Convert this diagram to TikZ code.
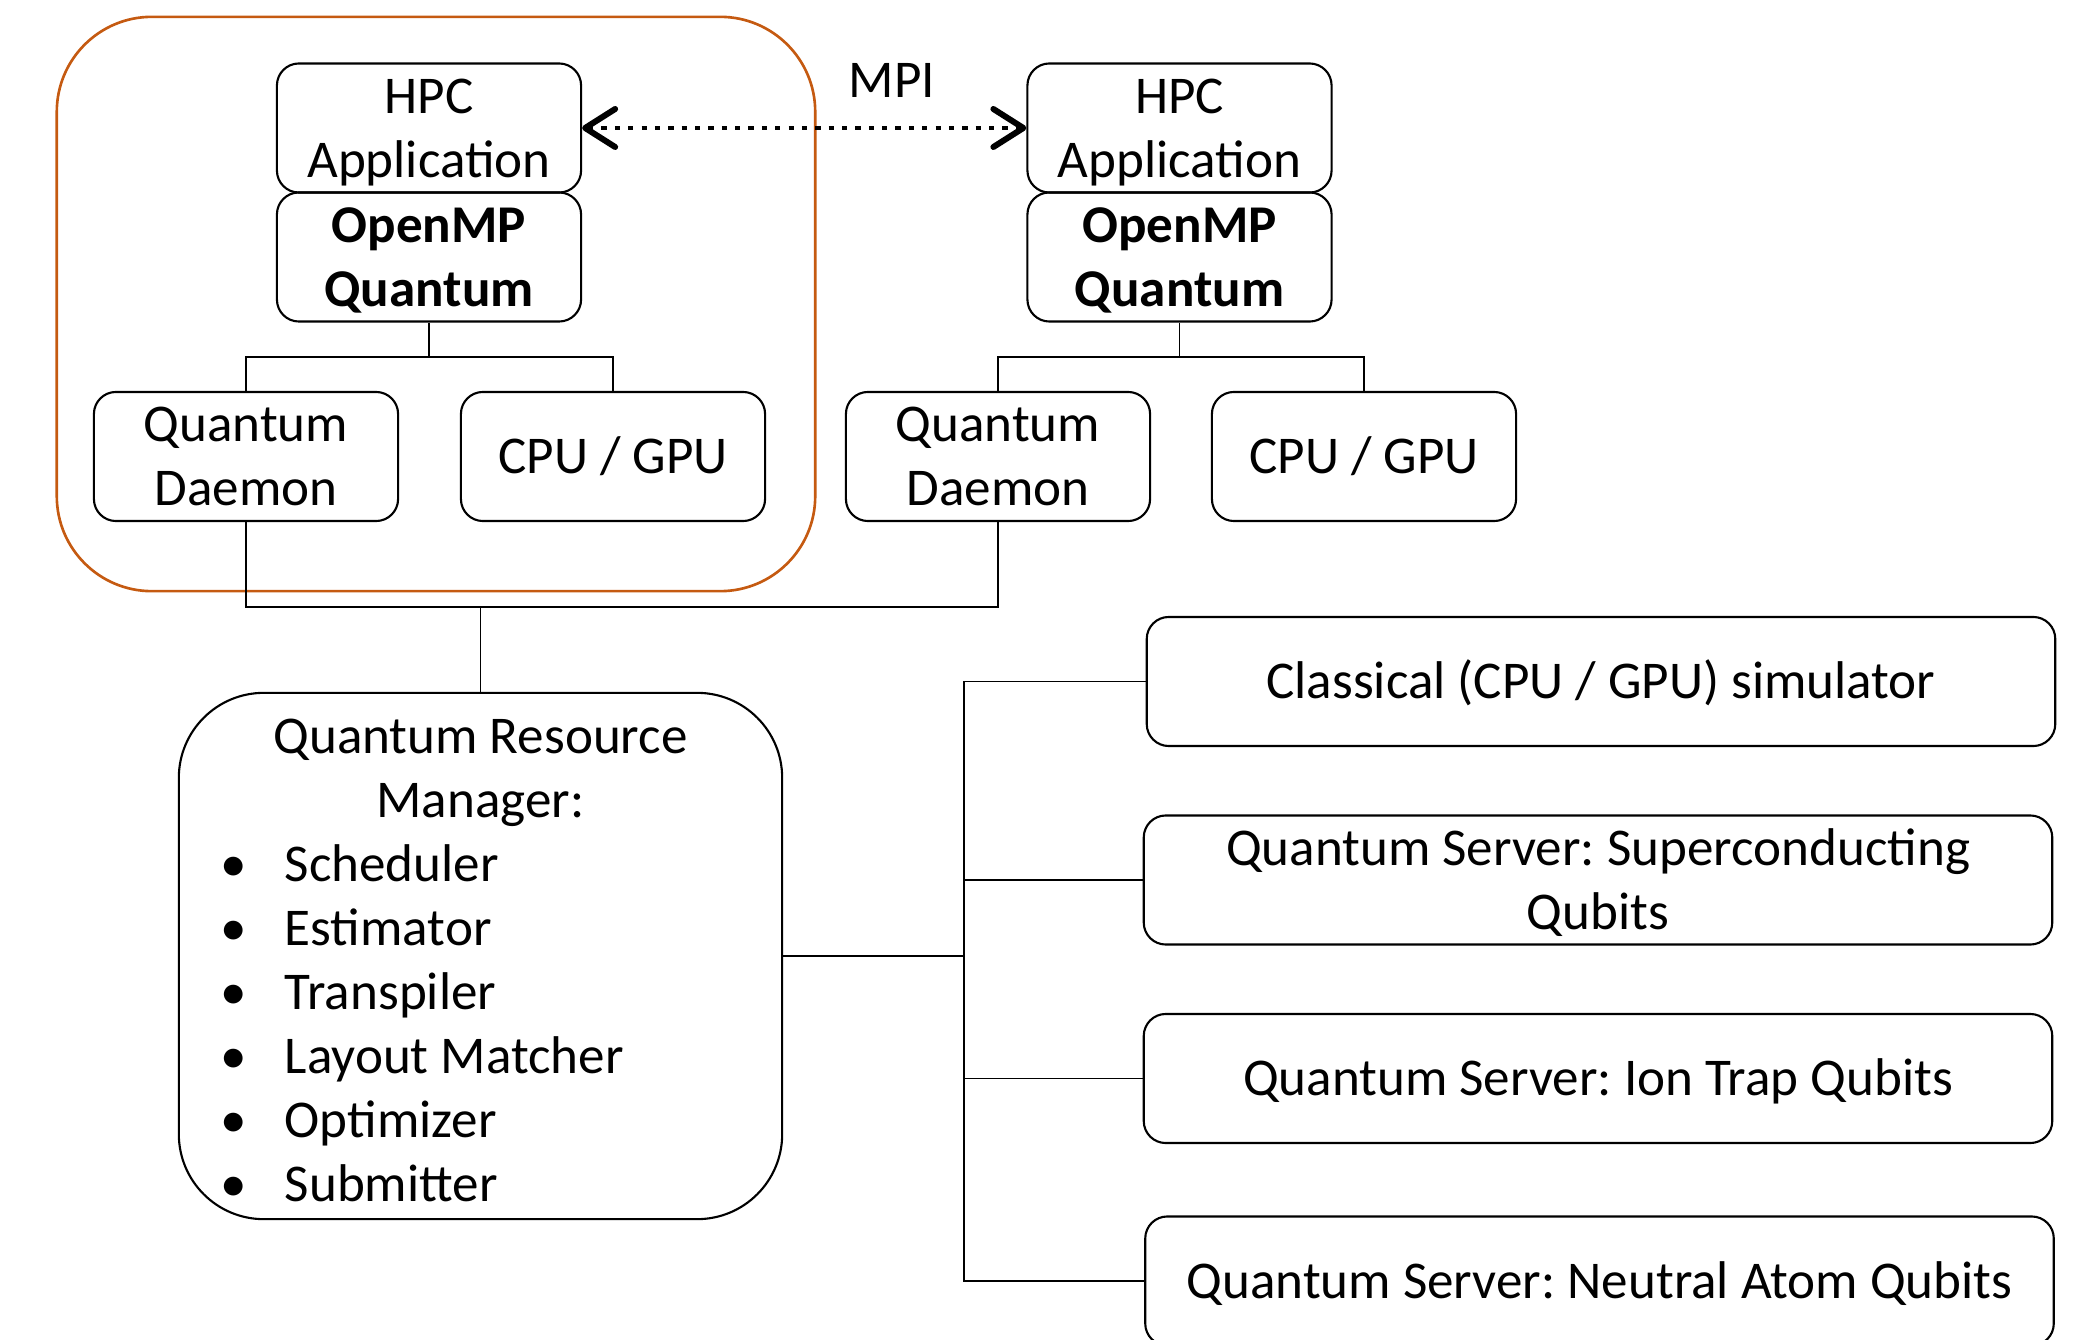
\documentclass[tikz,border=0pt]{standalone}
\usepackage{fontspec}
\setmainfont{Carlito}
\usetikzlibrary{arrows.meta,calc}
\definecolor{grpline}{RGB}{197,90,17}

% stacked, centred lines set a little lower than the box centre
\newcommand\boxlines[1]{\raisebox{-1.2pt}[\height][\depth]{\begin{tabular}{@{}c@{}}#1\end{tabular}}}
\newcommand\qrmitem[1]{\hspace*{0.42cm}\makebox[0.64cm][l]{\textbullet}#1}

\begin{document}
\frenchspacing
\begin{tikzpicture}[x=0.01cm,y=-0.01cm,
  txt/.style={font=\fontsize{15.1}{18.2}\selectfont},
  box/.style={txt, draw, line width=0.6pt, rounded corners=0.22cm, inner sep=0pt,
    minimum width=3.04cm, minimum height=1.29cm},
  wide/.style={box, minimum width=9.08cm},
  conn/.style={line width=0.4pt},
  mainconn/.style={line width=0.6pt},
  barb/.tip={Straight Barb[length=0.3cm,width=0.38cm,line width=1.7pt,round]},
  mpilink/.style={line width=1.4pt, dash pattern=on 1.5pt off 2.3pt, barb-barb}
]
\useasboundingbox (0,0) rectangle (2079,1340);

% node group outline
\node[draw=grpline, line width=0.75pt, rounded corners=0.95cm, inner sep=0pt,
  minimum width=7.58cm, minimum height=5.74cm] (grp) at (436,304) {};

% left node stack
\node[box] (hpcL) at (429,128) {\boxlines{HPC\\Application}};
\node[box] (ompL) at (429,257) {\boxlines{\bfseries OpenMP\\\bfseries Quantum}};
\node[box] (qdL) at (246,456.5) {\boxlines{Quantum\\Daemon}};
\node[box] (cpuL) at (613,456.5) {\boxlines{CPU / GPU}};

% right node stack
\node[box] (hpcR) at (1179.5,128) {\boxlines{HPC\\Application}};
\node[box] (ompR) at (1179.5,257) {\boxlines{\bfseries OpenMP\\\bfseries Quantum}};
\node[box] (qdR) at (998,456.5) {\boxlines{Quantum\\Daemon}};
\node[box] (cpuR) at (1364,456.5) {\boxlines{CPU / GPU}};

% MPI link between the applications
\draw[mpilink] (hpcL.east) -- (hpcR.west);
\node[txt] (mpi) at (892,80) {MPI};

% resource manager
\node[txt, draw, line width=0.6pt, rounded corners=0.85cm, inner sep=0pt,
  minimum width=6.03cm, minimum height=5.26cm] (qrm) at (480.5,956)
  {\raisebox{-1.2pt}[\height][\depth]{\begin{minipage}{6.03cm}%
   \setlength{\parindent}{0pt}\setlength{\parskip}{0pt}%
   {\centering Quantum Resource\\ Manager:\par}%
   \qrmitem{Scheduler}\\
   \qrmitem{Estimator}\\
   \qrmitem{Transpiler}\\
   \qrmitem{Layout Matcher}\\
   \qrmitem{Optimizer}\\
   \qrmitem{Submitter}%
   \end{minipage}}};

% back ends
\node[wide] (cls) at (1601,681.5) {\boxlines{Classical (CPU / GPU) simulator}};
\node[wide] (sc) at (1598,880) {\boxlines{Quantum Server: Superconducting\\Qubits}};
\node[wide] (ion) at (1598,1078.5) {\boxlines{Quantum Server: Ion Trap Qubits}};
\node[wide] (na) at (1599.5,1281) {\boxlines{Quantum Server: Neutral Atom Qubits}};

% tree connectors
\coordinate (tL) at (429,357);
\coordinate (tR) at (1179.5,357);
\coordinate (dj) at (480.5,607);
\coordinate (busx) at (964,0);

\draw[conn] (ompL.south) -- (tL);
\draw[conn] (qdL.north) |- (tL) -| (cpuL.north);
\draw[conn] (ompR.south) -- (tR);
\draw[conn] (qdR.north) |- (tR) -| (cpuR.north);

\draw[conn] (qdL.south) |- (dj) -| (qdR.south);
\draw[conn] (qrm.north) -- (dj);

\draw[conn] (cls.west) -- (cls.west -| busx) -- (na.west -| busx) -- (na.west);
\draw[conn] (sc.west) -- (sc.west -| busx);
\draw[conn] (ion.west) -- (ion.west -| busx);
\draw[mainconn] (qrm.east) -- (qrm.east -| busx) -- (sc.west -| busx);
\end{tikzpicture}
\end{document}
